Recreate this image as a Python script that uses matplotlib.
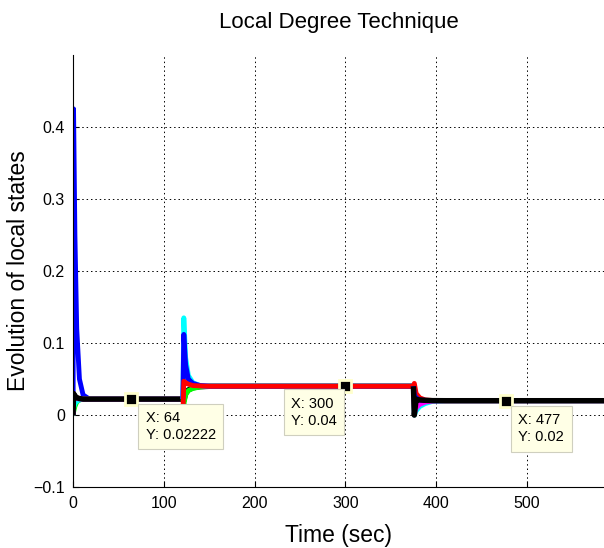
import matplotlib.pyplot as plt

plt.rcParams['font.family'] = ['Liberation Sans', 'DejaVu Sans']

# MATLAB plot colours
B, G, R, C, M, K = '#0000ff', '#00ff00', '#ff0000', '#00ffff', '#ff00ff', '#000000'

# time knots of the three phases
t1 = [0, 0.5, 2, 4, 7, 11, 18, 121]
t2 = [121, 122, 124, 127, 132, 140, 150, 375]
t3 = [375, 376, 378, 382, 388, 396, 410, 585]

# local states per agent
phase1 = {
    B: [0.0, 0.425, 0.25, 0.12, 0.05, 0.028, 0.0222, 0.0222],
    G: [0.0, 0.004, 0.012, 0.018, 0.021, 0.0222, 0.0222, 0.0222],
    R: [0.0, 0.03, 0.026, 0.024, 0.023, 0.0222, 0.0222, 0.0222],
    C: [0.0, 0.01, 0.016, 0.019, 0.021, 0.0222, 0.0222, 0.0222],
    M: [0.0, 0.02, 0.024, 0.023, 0.0225, 0.0222, 0.0222, 0.0222],
    K: [0.0, 0.03, 0.027, 0.024, 0.023, 0.0222, 0.0222, 0.0222],
}
phase2 = {
    K: [0.0222, 0.02, 0.03, 0.035, 0.038, 0.0395, 0.04, 0.04],
    G: [0.0222, 0.015, 0.028, 0.034, 0.037, 0.039, 0.04, 0.04],
    M: [0.0222, 0.06, 0.05, 0.045, 0.042, 0.041, 0.04, 0.04],
    C: [0.0222, 0.135, 0.08, 0.055, 0.045, 0.041, 0.04, 0.04],
    B: [0.0222, 0.112, 0.07, 0.05, 0.044, 0.041, 0.04, 0.04],
    R: [0.0, 0.047, 0.045, 0.043, 0.041, 0.0405, 0.04, 0.04],
}
phase3 = {
    G: [0.04, 0.004, 0.012, 0.016, 0.019, 0.0198, 0.02, 0.02],
    C: [0.04, 0.0, 0.006, 0.012, 0.016, 0.019, 0.02, 0.02],
    M: [0.04, 0.002, 0.01, 0.015, 0.018, 0.0195, 0.02, 0.02],
    R: [0.04, 0.044, 0.03, 0.024, 0.021, 0.0203, 0.02, 0.02],
    B: [0.04, 0.028, 0.024, 0.021, 0.0205, 0.0202, 0.02, 0.02],
    K: [0.04, 0.0, 0.022, 0.021, 0.0205, 0.0201, 0.02, 0.02],
}

# data tips
tip_x = [64, 300, 477]
tip_y = [0.02222, 0.04, 0.02]
tip_text = ['X: 64\nY: 0.02222', 'X: 300\nY: 0.04', 'X: 477\nY: 0.02']
tip_offset = [(10.5, -8.5), (-39, -7.5), (9, -9)]

fig = plt.figure(figsize=(6.04, 5.48), dpi=100)
ax = fig.add_axes([0.121, 0.111, 0.879, 0.789])

for t, phase in [(t1, phase1), (t2, phase2), (t3, phase3)]:
    for c, y in phase.items():
        ax.plot(t, y, color=c, lw=3.9 if c == K else 3.5, solid_capstyle='butt')

for x, y, s, off in zip(tip_x, tip_y, tip_text, tip_offset):
    ax.plot(x, y, 's', ms=8, mfc='k', mec='#ffffcc', mew=2, zorder=10)
    ax.annotate(s, (x, y), xytext=off, textcoords='offset points',
                ha='left', va='top', fontsize=10.5, zorder=11, linespacing=1.3,
                bbox=dict(boxstyle='square,pad=0.5', fc='#ffffe6', ec='#cfcfbf', lw=0.8))

ax.set_xlim(0, 585)
ax.set_ylim(-0.1, 0.5)
ax.set_xticks([0, 100, 200, 300, 400, 500])
ax.set_yticks([-0.1, 0, 0.1, 0.2, 0.3, 0.4])
ax.set_yticklabels(['\u22120.1', '0', '0.1', '0.2', '0.3', '0.4'])
ax.grid(True, color='k', linestyle=(0, (1.5, 3)), linewidth=0.7)
ax.spines['top'].set_visible(False)
ax.spines['right'].set_visible(False)
ax.tick_params(direction='in', length=4, labelsize=11.5, pad=6)

ax.set_title('Local Degree Technique', fontsize=16, pad=19)
ax.set_xlabel('Time (sec)', fontsize=16.5, labelpad=10)
ax.set_ylabel('Evolution of local states', fontsize=16.5, labelpad=2)

fig.savefig('out.png', dpi=100)
